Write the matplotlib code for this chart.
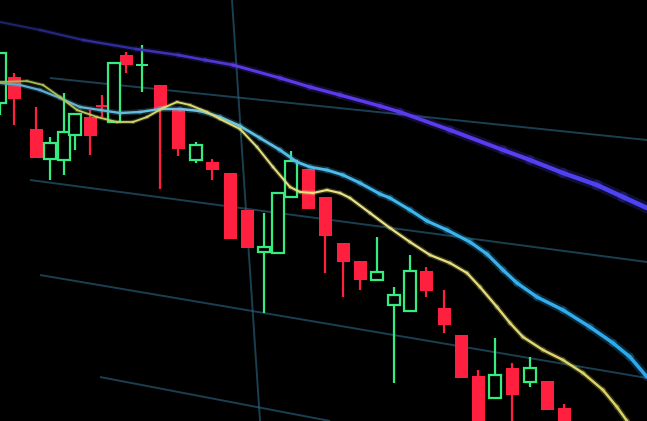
import numpy as np
import matplotlib
matplotlib.use("Agg")
import matplotlib.pyplot as plt
from matplotlib.collections import LineCollection
from matplotlib.colors import LinearSegmentedColormap

# ---------------- data (price units) ----------------
candle_x = [0, 14, 36, 50, 64, 75, 90, 102, 114, 126, 142, 160, 178, 196, 212,
            230, 247, 264, 278, 291, 308, 325, 343, 360, 377, 394, 410, 426,
            444, 461, 478, 495, 512, 530, 547, 564]
opens = [318, 344, 292, 262, 261, 286, 304, 316, 299, 366, 355, 336, 313, 261, 259,
         248, 211, 169, 168, 224, 252, 224, 178, 160, 141, 116, 110, 150,
         113, 86, 45, 23, 53, 39, 40, 13]
closes = [368, 322, 263, 278, 289, 307, 285, 314, 358, 356, 357, 312, 272, 276, 251,
          182, 173, 174, 228, 260, 212, 185, 159, 141, 149, 126, 150, 130,
          96, 43, -10, 46, 26, 53, 11, -5]
highs = [368, 348, 314, 284, 328, 307, 311, 326, 359, 369, 376, 336, 313, 279, 262,
         248, 211, 208, 228, 270, 252, 224, 178, 160, 184, 134, 166, 154,
         131, 86, 51, 83, 58, 64, 40, 17]
lows = [306, 296, 263, 241, 246, 271, 266, 304, 298, 348, 329, 232, 265, 258, 241,
        182, 173, 108, 168, 224, 212, 148, 124, 131, 141, 38, 110, 124,
        88, 43, -10, 23, -10, 34, 11, -5]

ma_slow_x = [0, 40, 83, 136, 178, 205, 233, 280, 310, 340, 380, 400, 450, 503,
             530, 563, 597, 623, 647]
ma_slow_y = [399, 391, 381, 372, 366, 361, 356, 343, 334, 326, 315, 309, 291, 271,
             261, 248, 236, 224, 213]

ma_mid_x = [0, 20, 40, 60, 80, 100, 120, 140, 160, 180, 200, 220, 240, 260, 280,
            297, 310, 327, 343, 360, 380, 390, 410, 427, 447, 470, 487, 503, 517,
            537, 563, 590, 613, 630, 647]
ma_mid_y = [338, 336, 331, 323, 314, 311, 308, 309, 312, 312, 310, 304, 295, 283, 271,
            259, 254, 251, 246, 238, 227, 223, 211, 200, 191, 179, 167, 151, 138,
            124, 111, 94, 78, 64, 44]

ma_fast_x = [0, 27, 43, 60, 77, 97, 117, 133, 147, 163, 177, 190, 207, 220, 240,
             257, 273, 290, 300, 313, 327, 340, 350, 370, 390, 410, 430, 450, 467,
             480, 497, 510, 523, 543, 563, 583, 603, 617, 627, 630]
ma_fast_y = [339, 340, 336, 324, 311, 304, 299, 299, 304, 313, 319, 316, 309, 302, 292,
             274, 254, 234, 229, 228, 231, 228, 223, 208, 193, 179, 166, 158, 148,
             134, 114, 98, 84, 71, 61, 48, 31, 14, 0, -5]

grid_lines = [((50, 343), (647, 281)),
              ((30, 241), (647, 159)),
              ((40, 146), (647, 43)),
              ((100, 44), (330, 0)),
              ((232, 421), (260, 0))]

# ---------------- figure ----------------
fig = plt.figure(figsize=(6.47, 4.21), dpi=100)
fig.patch.set_facecolor("black")
ax = fig.add_axes([0, 0, 1, 1])
ax.set_facecolor("black")
ax.set_xlim(0, 647)
ax.set_ylim(0, 421)
ax.axis("off")

# grid (screen grid lines seen in perspective)
for (p0, p1) in grid_lines:
    ax.plot([p0[0], p1[0]], [p0[1], p1[1]], color="#2a6a86", lw=1.4, alpha=0.6,
            zorder=1, solid_capstyle="butt")

red = "#ff1f3f"
green = "#34ec80"

x = np.array(candle_x, float)
o = np.array(opens, float)
c = np.array(closes, float)
h = np.array(highs, float)
l = np.array(lows, float)
up = c >= o

# wicks
ax.vlines(x[~up], l[~up], h[~up], color=red, lw=1.6, zorder=3)
ax.vlines(x[up], l[up], h[up], color=green, lw=1.6, zorder=3)

w = 13
# red bodies (filled)
ax.bar(x[~up], (c - o)[~up], bottom=o[~up], width=w, color=red, zorder=4,
       linewidth=0)
# green bodies (hollow)
thin = up & (np.abs(c - o) < 3)
hollow = up & ~thin
ax.bar(x[hollow], (c - o)[hollow], bottom=o[hollow], width=w - 1.5,
       facecolor="black", edgecolor=green, linewidth=1.6, zorder=4)
ax.bar(x[thin], np.maximum((c - o)[thin], 2.5), bottom=o[thin], width=w - 1.5,
       color=green, linewidth=0, zorder=4)


def grad_line(xs, ys, stops, lw0, lw1, z):
    xs = np.asarray(xs, float)
    ys = np.asarray(ys, float)
    pts = np.column_stack([xs, ys]).reshape(-1, 1, 2)
    segs = np.concatenate([pts[:-1], pts[1:]], axis=1)
    t = ((xs[:-1] + xs[1:]) / 2 - xs.min()) / (xs.max() - xs.min())
    cmap = LinearSegmentedColormap.from_list("g", stops)
    cols = cmap(t)
    lws = lw0 * (1 - t) + lw1 * t
    glow = cols.copy()
    glow[:, 3] = 0.22
    ax.add_collection(LineCollection(segs, colors=glow, linewidths=lws * 2.3,
                                     zorder=z, capstyle="round",
                                     joinstyle="round"))
    ax.add_collection(LineCollection(segs, colors=cols, linewidths=lws,
                                     zorder=z + 0.1, capstyle="round",
                                     joinstyle="round"))


grad_line(ma_slow_x, ma_slow_y,
          [(0.0, "#1a2262"), (0.2, "#3430a8"), (0.4, "#5c3ae6"),
           (0.7, "#5a3cf0"), (1.0, "#4a44f2")], 1.3, 3.4, 5)
grad_line(ma_mid_x, ma_mid_y,
          [(0.0, "#5aa8cc"), (0.3, "#6cc4e4"), (0.6, "#40b8f0"),
           (1.0, "#2aa8ee")], 1.5, 2.6, 5)
grad_line(ma_fast_x, ma_fast_y,
          [(0.0, "#98b848"), (0.25, "#d8d870"), (0.6, "#ece488"),
           (1.0, "#d8d060")], 1.2, 1.8, 5.5)

fig.savefig("out.png", dpi=100, facecolor="black")
